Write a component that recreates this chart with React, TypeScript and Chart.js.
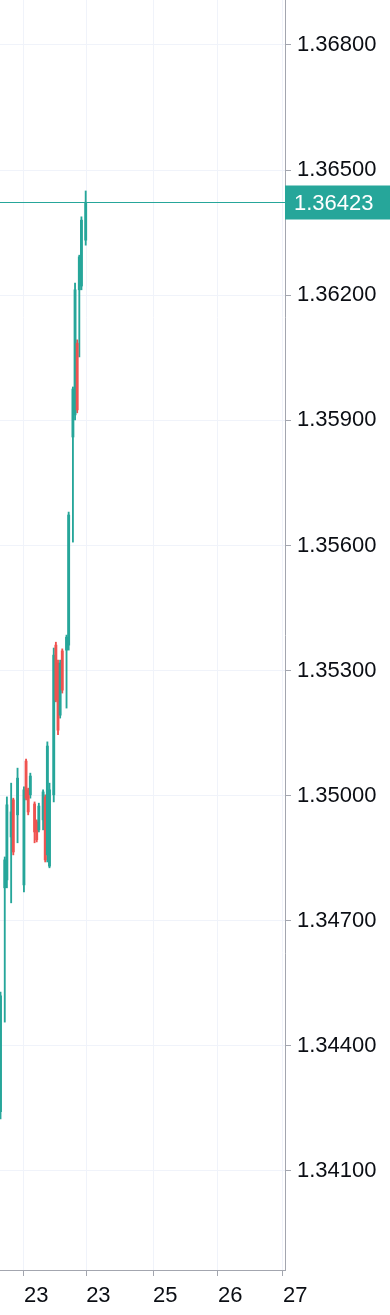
import React, { useEffect, useRef } from 'react';
import { Chart, registerables } from 'chart.js';

Chart.register(...registerables);

// Candle positions (bar index) and OHLC values
const candleIndex = [0, 2, 3, 5, 6, 8, 11, 12, 13, 14, 16, 17, 18, 20, 21, 22, 23, 25, 26, 27, 28, 29, 31, 32, 34, 35, 36, 37, 38, 40];
const openPrices = [1.34242, 1.34779, 1.34798, 1.34901, 1.3499, 1.34954, 1.34786, 1.35083, 1.35014, 1.35002, 1.3498, 1.34937, 1.34918, 1.34942, 1.34997, 1.34858, 1.34831, 1.35002, 1.35361, 1.35318, 1.35193, 1.35347, 1.35349, 1.35361, 1.3586, 1.35913, 1.36085, 1.36213, 1.36222, 1.36332];
const highPrices = [1.34529, 1.34853, 1.34997, 1.3503, 1.34994, 1.35066, 1.35021, 1.35088, 1.35018, 1.35054, 1.34985, 1.34942, 1.34982, 1.35014, 1.35002, 1.35129, 1.3503, 1.35354, 1.35368, 1.35325, 1.35325, 1.35352, 1.35385, 1.3568, 1.3598, 1.36229, 1.36093, 1.36296, 1.36388, 1.3645];
const lowPrices = [1.34225, 1.34457, 1.34779, 1.34743, 1.34858, 1.34887, 1.34769, 1.3499, 1.34954, 1.34994, 1.34887, 1.34889, 1.34913, 1.34918, 1.34841, 1.34841, 1.34827, 1.34985, 1.35225, 1.35146, 1.35186, 1.35246, 1.3521, 1.35349, 1.35608, 1.35901, 1.35918, 1.36052, 1.36213, 1.3632];
const closePrices = [1.3452, 1.34846, 1.34978, 1.34961, 1.34865, 1.35042, 1.35014, 1.34994, 1.34961, 1.35047, 1.34913, 1.34894, 1.34975, 1.35009, 1.34846, 1.35119, 1.35014, 1.35337, 1.35229, 1.35157, 1.35318, 1.35253, 1.3538, 1.35673, 1.35975, 1.36213, 1.35925, 1.36292, 1.3638, 1.36423];

const yTickValues = [1.341, 1.344, 1.347, 1.35, 1.353, 1.356, 1.359, 1.362, 1.365, 1.368];
const xTickValues = [11, 40.2, 71.6, 102.1, 132.6];
const xTickLabels = ['23', '23', '25', '26', '27'];
const lastPrice = 1.36423;

const X_MIN = -0.235;
const X_MAX = 133.57;
const Y_MIN = 1.338626;
const Y_MAX = 1.369079;

const UP = '#26a69a';
const DOWN = '#ef5350';
const GRID = '#f0f3fa';
const AXIS = '#a3a6af';
const TEXT = '#0b0e14';
const FONT = 'Liberation Sans';
const FONT_SIZE = 22;

const priceLinePlugin = {
  id: 'priceLine',
  afterDatasetsDraw(chart: any) {
    const { ctx, chartArea, scales } = chart;
    const py = Math.round(scales.y.getPixelForValue(lastPrice)) + 0.5;
    ctx.save();
    ctx.strokeStyle = UP;
    ctx.lineWidth = 1;
    ctx.beginPath();
    ctx.moveTo(chartArea.left, py);
    ctx.lineTo(chartArea.right, py);
    ctx.stroke();
    ctx.restore();
  },
  afterDraw(chart: any) {
    const { ctx, chartArea, scales, width } = chart;
    const py = Math.round(scales.y.getPixelForValue(lastPrice)) + 0.5;
    ctx.save();
    ctx.fillStyle = UP;
    ctx.fillRect(chartArea.right, py - 17, width - chartArea.right, 34);
    ctx.fillStyle = '#ffffff';
    ctx.font = `${FONT_SIZE}px "${FONT}"`;
    ctx.textAlign = 'left';
    ctx.textBaseline = 'middle';
    ctx.fillText(lastPrice.toFixed(5), chartArea.right + 9, py + 1);
    ctx.restore();
  },
};

export default function App() {
  const canvasRef = useRef<HTMLCanvasElement | null>(null);

  useEffect(() => {
    if (!canvasRef.current) return;
    const colors = closePrices.map((c, i) => (c >= openPrices[i] ? UP : DOWN));
    const chart = new Chart(canvasRef.current, {
      type: 'bar',
      data: {
        datasets: [
          {
            label: 'wick',
            data: candleIndex.map((x, i) => ({ x, y: [lowPrices[i], highPrices[i]] })) as any,
            backgroundColor: colors,
            borderWidth: 0,
            barThickness: 1.2,
            grouped: false,
            order: 2,
          },
          {
            label: 'body',
            data: candleIndex.map((x, i) => ({ x, y: [openPrices[i], closePrices[i]] })) as any,
            backgroundColor: colors,
            borderWidth: 0,
            barThickness: 2.2,
            grouped: false,
            order: 1,
          },
        ],
      },
      options: {
        animation: false,
        responsive: false,
        layout: { padding: 0 },
        plugins: { legend: { display: false }, tooltip: { enabled: false } },
        scales: {
          x: {
            type: 'linear',
            min: X_MIN,
            max: X_MAX,
            offset: false,
            afterBuildTicks: (s: any) => {
              s.ticks = xTickValues.map((v) => ({ value: v }));
            },
            afterFit: (s: any) => {
              s.height = 45;
              s.paddingLeft = 0;
              s.paddingRight = 0;
            },
            grid: { color: GRID, tickColor: AXIS, tickLength: 6, offset: false },
            border: { color: AXIS, width: 1 },
            ticks: {
              autoSkip: false,
              maxRotation: 0,
              align: 'start',
              padding: 7,
              color: TEXT,
              font: { family: FONT, size: FONT_SIZE },
              callback: (_v: any, i: number) => xTickLabels[i],
            },
          },
          y: {
            type: 'linear',
            position: 'right',
            min: Y_MIN,
            max: Y_MAX,
            afterBuildTicks: (s: any) => {
              s.ticks = yTickValues.map((v) => ({ value: v }));
            },
            afterFit: (s: any) => {
              s.width = 105;
              s.paddingTop = 0;
              s.paddingBottom = 0;
            },
            grid: { color: GRID, tickColor: AXIS, tickLength: 6 },
            border: { color: AXIS, width: 1 },
            ticks: {
              autoSkip: false,
              padding: 6,
              color: TEXT,
              font: { family: FONT, size: FONT_SIZE },
              callback: (v: any) => Number(v).toFixed(5),
            },
          },
        },
      } as any,
      plugins: [priceLinePlugin],
    });
    return () => chart.destroy();
  }, []);

  return (
    <div style={{ position: 'absolute', left: 0, top: 0, width: 390, height: 1315, background: '#ffffff' }}>
      <canvas ref={canvasRef} width={390} height={1315} style={{ width: 390, height: 1315, display: 'block' }} />
    </div>
  );
}
